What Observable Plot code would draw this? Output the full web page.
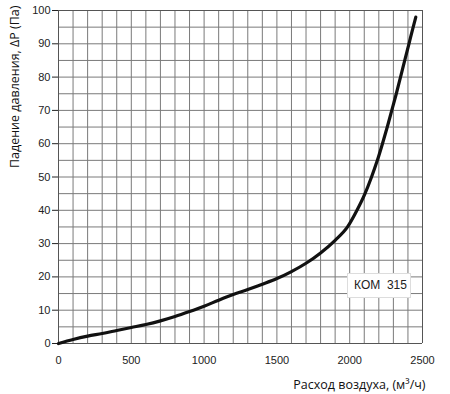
<!DOCTYPE html>
<html>
<head>
<meta charset="utf-8">
<script src="https://cdn.jsdelivr.net/npm/d3@7"></script>
<script src="https://cdn.jsdelivr.net/npm/@observablehq/plot@0.6"></script>
<style>
  html, body { margin: 0; padding: 0; background: #fff; }
</style>
</head>
<body>
<script>
// Airflow (m3/h) and pressure drop (Pa)
const flow     = [0, 100, 200, 300, 400, 500, 600, 700, 800, 900, 1000, 1100, 1200, 1300, 1400, 1500, 1600, 1700, 1800, 1900, 1985, 2050, 2105, 2150, 2190, 2225, 2258, 2289, 2320, 2349, 2378, 2407, 2436, 2454];
const pressure = [0, 1.2, 2.2, 3.0, 3.9, 4.8, 5.7, 6.8, 8.1, 9.6, 11.2, 13.0, 14.7, 16.2, 17.8, 19.5, 21.6, 24.1, 27.2, 31.0, 35, 40, 45, 50, 55, 60, 65, 70, 75, 80, 85, 90, 95, 98];
const xTickLabels = [0, 500, 1000, 1500, 2000, 2500];
const yTickLabels = [0, 10, 20, 30, 40, 50, 60, 70, 80, 90, 100];
const xGrid = [0,100,200,300,400,500,600,700,800,900,1000,1100,1200,1300,1400,1500,1600,1700,1800,1900,2000,2100,2200,2300,2400,2500];
const yGrid = [0,5,10,15,20,25,30,35,40,45,50,55,60,65,70,75,80,85,90,95,100];
const xLabel = "Расход воздуха, (м³/ч)";
const yLabel = "Падение давления, ΔP (Па)";
const seriesName = "КОМ\u00a0 315";

const data = flow.map((f, i) => ({flow: f, dp: pressure[i]}));

// legend box behind the series name; the text group is already shifted by dx/dy,
// so the box is placed relative to the frame corner plus that shift
function withBox(index, scales, values, dims, context, next) {
  const g = next(index, scales, values, dims, context);
  const r = document.createElementNS("http://www.w3.org/2000/svg", "rect");
  const right = dims.width - dims.marginRight;
  const bottom = dims.height - dims.marginBottom;
  r.setAttribute("x", right - 33);
  r.setAttribute("y", bottom - 12);
  r.setAttribute("width", 63);
  r.setAttribute("height", 24);
  r.setAttribute("fill", "#fff");
  r.setAttribute("stroke", "#ddd");
  g.insertBefore(r, g.firstChild);
  return g;
}

const chart = Plot.plot({
  width: 450,
  height: 394,
  marginTop: 10,
  marginLeft: 58,
  marginRight: 28,
  marginBottom: 51,
  style: {fontFamily: "'Liberation Sans', Arial, sans-serif", fontSize: "11px", color: "#222", background: "#fff"},
  x: {domain: [0, 2500]},
  y: {domain: [0, 100]},
  marks: [
    Plot.text([xLabel], {frameAnchor: "bottom-right", dx: 3, dy: 41, textAnchor: "end", lineAnchor: "middle", fontSize: 12.5, fill: "#111", fontFamily: "'Open Sans', sans-serif"}),
    Plot.text([yLabel], {frameAnchor: "top-left", dx: -44, dy: -5, rotate: -90, textAnchor: "end", lineAnchor: "middle", fontSize: 12.5, fill: "#111", fontFamily: "'Open Sans', sans-serif"}),
    Plot.ruleX(xGrid, {x: d => d, stroke: "#7a7a7a", strokeWidth: 1}),
    Plot.ruleY(yGrid, {y: d => d, stroke: "#7a7a7a", strokeWidth: 1}),
    Plot.ruleX([0, 2500], {x: d => d, stroke: "#555", strokeWidth: 1}),
    Plot.ruleY([0, 100], {y: d => d, stroke: "#555", strokeWidth: 1}),
    Plot.axisX(xTickLabels, {tickSize: 0, tickPadding: 13, label: null, fontSize: 11, tickFormat: d => String(d)}),
    Plot.axisY(yTickLabels, {tickSize: 6, tickPadding: 2, label: null, fontSize: 11, tickFormat: d => String(d)}),
    Plot.line(data, {x: "flow", y: "dp", curve: "monotone-x", stroke: "#111", strokeWidth: 3.2}),
    Plot.text([seriesName], {frameAnchor: "bottom-right", dx: -42, dy: -58, textAnchor: "middle", lineAnchor: "middle", fontSize: 12, fill: "#222", fontFamily: "'Liberation Sans', Arial, sans-serif", render: withBox})
  ]
});

document.body.appendChild(chart);
</script>
</body>
</html>
